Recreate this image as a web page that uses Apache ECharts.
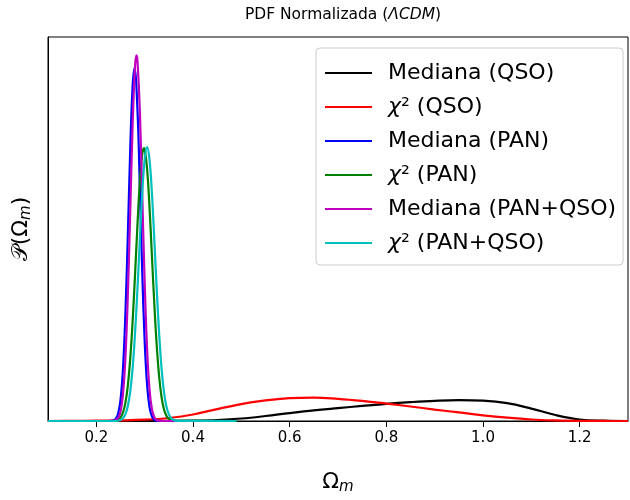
<!DOCTYPE html>
<html>
<head>
<meta charset="utf-8">
<script src="https://cdn.jsdelivr.net/npm/echarts@6/dist/echarts.min.js"></script>
<style>
html,body{margin:0;padding:0;background:#fff;}
#c{width:630px;height:500px;}
</style>
</head>
<body>
<div id="c"></div>
<script>
// ---- data ----
const seriesNames = ['Mediana (QSO)', 'χ² (QSO)', 'Mediana (PAN)', 'χ² (PAN)', 'Mediana (PAN+QSO)', 'χ² (PAN+QSO)'];
const seriesColors = ['#000000', '#ff0000', '#0000ff', '#008000', '#bf00bf', '#00bfbf'];
const xTicks = [0.2, 0.4, 0.6, 0.8, 1.0, 1.2];

// broad QSO curves share one grid of Ω_m
const qsoX = [0.10,0.15,0.20,0.25,0.30,0.35,0.40,0.45,0.50,0.55,0.60,0.65,0.70,0.75,0.80,0.85,0.90,0.95,1.00,1.05,1.10,1.15,1.20,1.25,1.30];
const medianaQSO = [0,0,0,0,0,0.0002,0.0008,0.0027,0.0068,0.0136,0.0217,0.0291,0.0353,0.0413,0.0470,0.0516,0.0552,0.0571,0.0557,0.0489,0.0340,0.0163,0.0041,0.0008,0];
const chi2QSO = [0,0.0003,0.0008,0.0016,0.0035,0.0082,0.0177,0.0326,0.0462,0.0565,0.0625,0.0641,0.0606,0.0549,0.0476,0.0397,0.0313,0.0236,0.0155,0.0090,0.0041,0.0016,0.0004,0.0001,0];

const medianaPANX = [0.10,0.225,0.230,0.235,0.240,0.245,0.250,0.255,0.260,0.265,0.270,0.275,0.279,0.285,0.290,0.295,0.300,0.305,0.310,0.315,0.320,0.325,0.330,0.335,0.48];
const medianaPAN = [0,0,0.0003,0.0014,0.0058,0.0198,0.0571,0.139,0.287,0.499,0.735,0.914,0.964,0.854,0.642,0.408,0.219,0.0995,0.0382,0.0124,0.0034,0.0008,0.0002,0,0];

const chi2PANX = [0.10,0.235,0.240,0.245,0.250,0.255,0.260,0.265,0.270,0.275,0.280,0.285,0.290,0.295,0.2985,0.300,0.305,0.310,0.315,0.320,0.325,0.330,0.335,0.340,0.345,0.350,0.355,0.360,0.365,0.49];
const chi2PAN = [0,0,0.0014,0.0039,0.0099,0.0231,0.049,0.095,0.168,0.271,0.398,0.534,0.653,0.729,0.746,0.743,0.690,0.585,0.452,0.319,0.205,0.121,0.0646,0.0316,0.0141,0.0057,0.0021,0.0007,0.0002,0];

const medianaBothX = [0.10,0.225,0.230,0.235,0.240,0.245,0.250,0.255,0.260,0.265,0.270,0.275,0.280,0.283,0.285,0.290,0.295,0.300,0.305,0.310,0.315,0.320,0.325,0.330,0.335,0.340,0.48];
const medianaBoth = [0,0,0.0001,0.0004,0.0020,0.0078,0.0258,0.0718,0.169,0.337,0.567,0.807,0.970,1.0,0.987,0.848,0.616,0.379,0.197,0.0864,0.0321,0.0101,0.0027,0.0006,0.0001,0,0];

const chi2BothX = [0.10,0.240,0.245,0.250,0.255,0.260,0.265,0.270,0.275,0.280,0.285,0.290,0.295,0.300,0.305,0.310,0.315,0.320,0.325,0.330,0.335,0.340,0.345,0.350,0.355,0.360,0.365,0.370,0.49];
const chi2Both = [0,0,0.0010,0.0029,0.0076,0.0182,0.0397,0.0789,0.143,0.238,0.359,0.495,0.623,0.715,0.749,0.715,0.623,0.495,0.359,0.238,0.143,0.0789,0.0397,0.0182,0.0076,0.0029,0.0010,0.0003,0];

// ---- chart ----
const FONT = 'DejaVu Sans';
const pairs = (xs, ys) => xs.map((x, i) => [x, ys[i]]);
const curves = [
  pairs(qsoX, medianaQSO),
  pairs(qsoX, chi2QSO),
  pairs(medianaPANX, medianaPAN),
  pairs(chi2PANX, chi2PAN),
  pairs(medianaBothX, medianaBoth),
  pairs(chi2BothX, chi2Both)
];

const chart = echarts.init(document.getElementById('c'), null, {renderer: 'canvas'});
chart.setOption({
  animation: false,
  backgroundColor: '#ffffff',
  title: {
    text: 'PDF Normalizada ({i|ΛCDM})',
    left: 338, top: 2, textAlign: 'center',
    textStyle: {
      fontFamily: FONT, fontSize: 15.5, fontWeight: 'normal', color: '#000',
      rich: { i: { fontFamily: FONT, fontSize: 15.5, fontStyle: 'italic', color: '#000' } }
    }
  },
  grid: {
    left: 48, right: 2, top: 37, bottom: 77,
    show: true, borderColor: '#000', borderWidth: 1, backgroundColor: 'transparent'
  },
  legend: {
    orient: 'vertical', left: 316, top: 48,
    icon: 'rect', itemWidth: 47, itemHeight: 2.2, itemGap: 8,
    padding: [12, 7, 9, 9],
    backgroundColor: 'rgba(255,255,255,0.8)', borderColor: '#cccccc', borderWidth: 1, borderRadius: 4,
    data: seriesNames,
    formatter: name => name.replace('χ', '{i|χ}'),
    textStyle: {
      fontFamily: FONT, fontSize: 22, lineHeight: 26, color: '#000', padding: [0, 0, 0, 11],
      rich: { i: { fontFamily: FONT, fontSize: 22, fontStyle: 'italic', color: '#000' } }
    }
  },
  xAxis: {
    type: 'value', min: 0.1, max: 1.3,
    axisLine: { show: true, onZero: false, lineStyle: { color: '#000', width: 1 } },
    axisTick: { show: true, customValues: xTicks, length: 6, lineStyle: { color: '#000', width: 1 } },
    axisLabel: { customValues: xTicks, formatter: v => v.toFixed(1), color: '#000', fontSize: 15, fontFamily: FONT, margin: 10 },
    splitLine: { show: false },
    name: '{a|Ω}{s|m}', nameLocation: 'middle', nameGap: 49,
    nameTextStyle: {
      color: '#000',
      rich: {
        a: { fontFamily: FONT, fontSize: 22, color: '#000' },
        s: { fontFamily: FONT, fontSize: 15, fontStyle: 'italic', color: '#000', padding: [10, 0, 0, 0] }
      }
    }
  },
  yAxis: {
    type: 'value', min: 0, max: 1.05,
    axisLine: { show: true, lineStyle: { color: '#000', width: 1 } },
    axisTick: { show: false }, axisLabel: { show: false }, splitLine: { show: false },
    name: '{p|𝒫}{a|(Ω}{s|m}{a|)}', nameLocation: 'middle', nameRotate: 90, nameGap: 14,
    nameTextStyle: {
      color: '#000',
      rich: {
        p: { fontFamily: FONT, fontSize: 22, color: '#000' },
        a: { fontFamily: FONT, fontSize: 22, color: '#000' },
        s: { fontFamily: FONT, fontSize: 15, fontStyle: 'italic', color: '#000', padding: [10, 0, 0, 0] }
      }
    }
  },
  series: curves.map((d, i) => ({
    name: seriesNames[i], type: 'line', data: d,
    showSymbol: false, symbol: 'none', smooth: 0.4,
    lineStyle: { color: seriesColors[i], width: 2.2 },
    itemStyle: { color: seriesColors[i] },
    emphasis: { disabled: true }
  }))
});
</script>
</body>
</html>
